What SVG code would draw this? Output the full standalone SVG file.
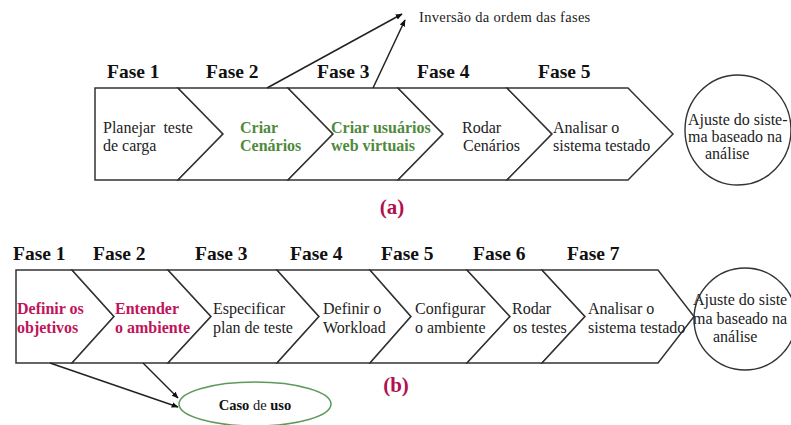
<svg xmlns="http://www.w3.org/2000/svg" width="791" height="425" viewBox="0 0 791 425" font-family="Liberation Serif, Times New Roman, serif">
<defs>
<marker id="ah" viewBox="0 0 10 10" refX="9" refY="5" markerWidth="7" markerHeight="7" orient="auto" markerUnits="userSpaceOnUse">
<path d="M0,1 L10,5 L0,9 Z" fill="#111"/>
</marker>
<style>
.shape{fill:#fff;stroke:#333;stroke-width:1.5}
.circ{fill:#fff;stroke:#333;stroke-width:1.4}
.fase{font-size:19.5px;font-weight:bold;fill:#111}
.t{font-size:16px;fill:#222;white-space:pre}
.g{fill:#4f8a3c;font-weight:bold}
.r{fill:#c0145a;font-weight:bold}
.lbl{font-size:21px;font-weight:bold;fill:#b0104e;text-anchor:middle}
.note{font-size:14.5px;fill:#222;letter-spacing:0.3px}
.conn{stroke:#222;stroke-width:1.5;fill:none;marker-end:url(#ah)}
.uc{fill:#fff;stroke:#5c9a5c;stroke-width:1.5}
.uct{font-size:14.5px;fill:#111;text-anchor:middle}
</style>
</defs>
<rect width="791" height="425" fill="#fff"/>

<!-- (a) -->
<g id="a-fase1">
<polygon class="shape" points="95,88 178,88 223,134 178,180 95,180"/>
<text class="fase" x="107" y="78">Fase 1</text>
<text class="t" x="103" y="133">Planejar  teste</text>
<text class="t" x="103" y="151">de carga</text>
</g>
<g id="a-fase2">
<polygon class="shape" points="178,88 288,88 333,134 288,180 178,180 223,134"/>
<text class="fase" x="206" y="78">Fase 2</text>
<text class="t g" x="240" y="133">Criar</text>
<text class="t g" x="240" y="151">Cenários</text>
</g>
<g id="a-fase3">
<polygon class="shape" points="288,88 398,88 443,134 398,180 288,180 333,134"/>
<text class="fase" x="317" y="78">Fase 3</text>
<text class="t g" x="331" y="133">Criar usuários</text>
<text class="t g" x="331" y="151">web virtuais</text>
</g>
<g id="a-fase4">
<polygon class="shape" points="398,88 507,88 552,134 507,180 398,180 443,134"/>
<text class="fase" x="417" y="78">Fase 4</text>
<text class="t" x="462" y="133">Rodar</text>
<text class="t" x="463" y="151">Cenários</text>
</g>
<g id="a-fase5">
<polygon class="shape" points="507,88 628,88 673,134 628,180 507,180 552,134"/>
<text class="fase" x="538" y="78">Fase 5</text>
<text class="t" x="553" y="133">Analisar o</text>
<text class="t" x="553" y="151">sistema testado</text>
</g>
<g id="a-ajuste">
<ellipse class="circ" cx="738" cy="130" rx="53" ry="55"/>
<text class="t" x="688" y="125">Ajuste do siste-</text>
<text class="t" x="688" y="142">ma baseado na</text>
<text class="t" x="705" y="159">análise</text>
</g>
<g id="a-inversao">
<text class="note" x="419" y="22">Inversão da ordem das fases</text>
</g>
<text class="lbl" x="392" y="214">(a)</text>

<!-- (b) -->
<g id="b-fase1">
<polygon class="shape" points="16,270 72,270 114,316.5 72,363 16,363"/>
<text class="fase" x="13" y="260">Fase 1</text>
<text class="t r" x="17" y="314">Definir os</text>
<text class="t r" x="17" y="333">objetivos</text>
</g>
<g id="b-fase2">
<polygon class="shape" points="72,270 168,270 211,316.5 168,363 72,363 114,316.5"/>
<text class="fase" x="93" y="260">Fase 2</text>
<text class="t r" x="115" y="314">Entender</text>
<text class="t r" x="115" y="333">o ambiente</text>
</g>
<g id="b-fase3">
<polygon class="shape" points="168,270 277,270 319,316.5 277,363 168,363 211,316.5"/>
<text class="fase" x="195" y="260">Fase 3</text>
<text class="t" x="213" y="314">Especificar</text>
<text class="t" x="213" y="333">plan de teste</text>
</g>
<g id="b-fase4">
<polygon class="shape" points="277,270 370,270 411,316.5 370,363 277,363 319,316.5"/>
<text class="fase" x="290" y="260">Fase 4</text>
<text class="t" x="323" y="314">Definir o</text>
<text class="t" x="323" y="333">Workload</text>
</g>
<g id="b-fase5">
<polygon class="shape" points="370,270 467,270 510,316.5 467,363 370,363 411,316.5"/>
<text class="fase" x="381" y="260">Fase 5</text>
<text class="t" x="415" y="314">Configurar</text>
<text class="t" x="415" y="333">o ambiente</text>
</g>
<g id="b-fase6">
<polygon class="shape" points="467,270 542,270 585,316.5 542,363 467,363 510,316.5"/>
<text class="fase" x="473" y="260">Fase 6</text>
<text class="t" x="512" y="314">Rodar</text>
<text class="t" x="513" y="333">os testes</text>
</g>
<g id="b-fase7">
<polygon class="shape" points="542,270 658,270 694,316.5 658,363 542,363 585,316.5"/>
<text class="fase" x="567" y="260">Fase 7</text>
<text class="t" x="588" y="314">Analisar o</text>
<text class="t" x="588" y="333">sistema testado</text>
</g>
<g id="b-ajuste">
<ellipse class="circ" cx="745" cy="319" rx="51" ry="51"/>
<text class="t" x="693" y="305">Ajuste do siste</text>
<text class="t" x="693" y="324">ma baseado na</text>
<text class="t" x="713" y="342">análise</text>
</g>
<g id="b-caso">
<ellipse class="uc" cx="255" cy="404" rx="76" ry="22"/>
<text class="uct" x="255" y="410"><tspan font-weight="bold">Caso</tspan> de <tspan font-weight="bold">uso</tspan></text>
</g>
<text class="lbl" x="396" y="392">(b)</text>

<g id="connectors">
<line class="conn" x1="267" y1="88" x2="402" y2="14"/>
<line class="conn" x1="373" y1="88" x2="405" y2="20"/>
<line class="conn" x1="50" y1="363" x2="178" y2="407"/>
<line class="conn" x1="143" y1="363" x2="178" y2="398"/>
</g>
</svg>
